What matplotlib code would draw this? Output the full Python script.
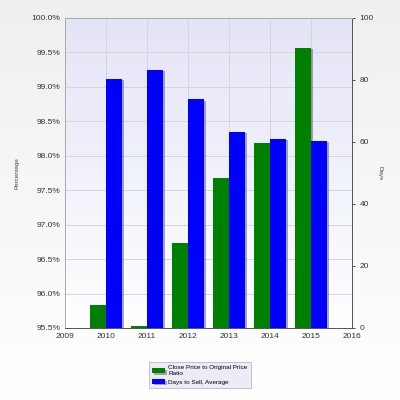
import numpy as np
import matplotlib.pyplot as plt
import matplotlib.patheffects as pe
from matplotlib.colors import LinearSegmentedColormap
from matplotlib.ticker import FuncFormatter

plt.rcParams['font.family'] = ['Liberation Sans', 'DejaVu Sans']

# Дані
years = [2010, 2011, 2012, 2013, 2014, 2015]
price_ratio = [95.84, 95.53, 96.73, 97.68, 98.18, 99.57]   # %
days_to_sell = [80.4, 83.3, 73.8, 63.3, 61.1, 60.4]
x_ticks = list(range(2009, 2017))

fig = plt.figure(figsize=(4, 4), dpi=100)

# фон фігури - світлий градієнт
bg = fig.add_axes([0, 0, 1, 1], zorder=-10)
grad = np.linspace(0, 1, 256).reshape(-1, 1)
bg.imshow(grad, aspect='auto', extent=[0, 1, 0, 1],
          cmap=LinearSegmentedColormap.from_list('bg', ['#efefef', '#ffffff']))
bg.axis('off')

ax = fig.add_axes([0.1625, 0.18, 0.7175, 0.775])
ax.patch.set_visible(False)
ax.imshow(np.linspace(1, 0, 256).reshape(-1, 1), aspect='auto',
          cmap=LinearSegmentedColormap.from_list('pa', ['#ffffff', '#e4e4f7']),
          extent=[0, 1, 0, 1], transform=ax.transAxes, zorder=-5)

w = 0.4
shadow = [pe.SimplePatchShadow(offset=(1.2, -1.2), shadow_rgbFace='#555555', alpha=0.5), pe.Normal()]
xs = np.array(years)
ax.bar(xs - w / 2, price_ratio, width=w, color='#008000', zorder=3,
       label='Close Price to Original Price\nRatio', path_effects=shadow)
ax.set_ylim(95.5, 100)
ax.set_xlim(2009, 2016)
ax.set_yticks(np.arange(95.5, 100.01, 0.5))
ax.yaxis.set_major_formatter(FuncFormatter(lambda v, p: f'{v:.1f}%'))
ax.set_xticks(x_ticks)
ax.grid(True, color='#d4d4dc', linewidth=0.7, zorder=0)
ax.set_axisbelow(True)
ax.set_ylabel('Percentage', fontsize=4.5, color='#444444')
ax.yaxis.set_label_coords(-0.157, 0.5)

ax2 = ax.twinx()
ax2.bar(xs + w / 2, days_to_sell, width=w, color='#0000ff', zorder=3,
        label='Days to Sell, Average', path_effects=shadow)
ax2.set_ylim(0, 100)
ax2.set_yticks(range(0, 101, 20))
ax2.set_ylabel('Days', fontsize=4.5, color='#444444', rotation=-90, va='center')
ax2.yaxis.set_label_coords(1.098, 0.5)

for a in (ax, ax2):
    for s in a.spines.values():
        s.set_color('#aaaaaa')
        s.set_linewidth(0.7)
    a.tick_params(labelsize=6, colors='#333333', length=2, width=0.6)
ax2.spines['right'].set_color('#555555')
ax2.spines['bottom'].set_color('#555555')
ax.tick_params(axis='y', length=0)
ax.tick_params(axis='x', length=0)

h1, l1 = ax.get_legend_handles_labels()
h2, l2 = ax2.get_legend_handles_labels()
leg = fig.legend(h1 + h2, l1 + l2, loc='center', bbox_to_anchor=(0.5, 0.0625),
                 fontsize=4.6, frameon=True, fancybox=False, handlelength=2.0,
                 handleheight=0.8, labelspacing=0.4, borderpad=0.6, handletextpad=0.5)
leg.get_frame().set_facecolor('#e8e8f6')
leg.get_frame().set_edgecolor('#aaaaaa')
leg.get_frame().set_linewidth(0.6)

fig.savefig('out.png', dpi=100)
